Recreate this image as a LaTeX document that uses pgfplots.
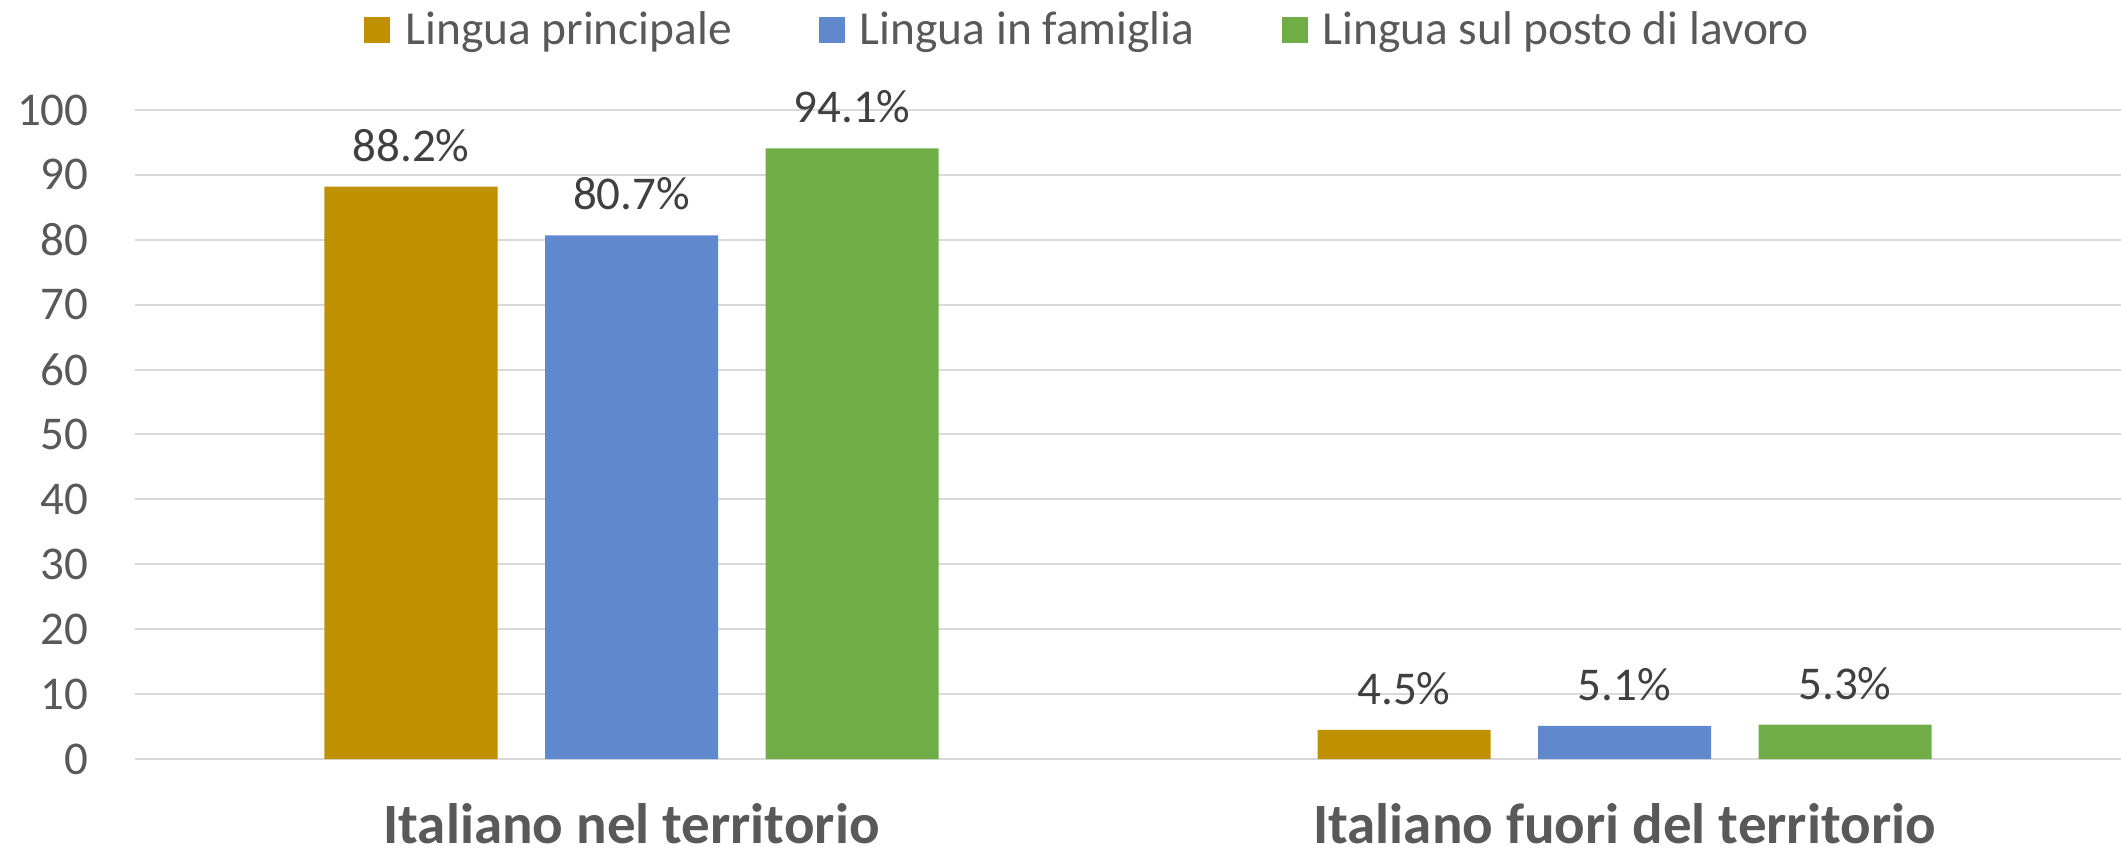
\documentclass[border=0pt]{standalone}
\usepackage{fontspec}
\setmainfont{Carlito}
\usepackage{pgfplots}
\pgfplotsset{compat=1.18}

\definecolor{cGold}{HTML}{BF9000}
\definecolor{cBlue}{HTML}{6088CC}
\definecolor{cGreen}{HTML}{70AD47}
\definecolor{cGrid}{HTML}{D9D9D9}
\definecolor{cText}{HTML}{595959}
\definecolor{cLabel}{HTML}{404040}

\begin{document}
\begin{tikzpicture}
% 1px of the reference = 0.5pt; axis origin sits at pixel (135,759)
\path[use as bounding box] (-67.5pt,-49pt) rectangle (993pt,379.5pt);
\begin{axis}[
    at={(0,0)}, anchor=south west,
    scale only axis,
    width=993pt, height=324.5pt,
    ybar=23.75pt,
    bar width=86.5pt,
    xmin=-0.5, xmax=1.5,
    ymin=0, ymax=100,
    xtick={0,1},
    xticklabels={Italiano nel territorio, Italiano fuori del territorio},
    ytick={0,10,...,100},
    major tick length=0pt,
    axis line style={draw=none},
    ymajorgrids,
    grid style={cGrid, line width=1pt},
    /pgf/number format/assume math mode=true,
    yticklabel style={font=\fontsize{23.5}{28}\selectfont, text=cText,
        anchor=east, inner sep=0pt, xshift=-23pt},
    xticklabel style={font=\fontsize{28.5}{34}\selectfont\bfseries, text=cText,
        anchor=base, inner sep=0pt, yshift=-42pt},
    nodes near coords={\pgfmathprintnumber[fixed, precision=1, fixed zerofill]{\pgfplotspointmeta}\%},
    every node near coord/.append style={font=\fontsize{23.5}{28}\selectfont,
        text=cLabel, inner sep=0pt, text depth=0pt, yshift=12.5pt},
    legend columns=3,
    legend image code/.code={\fill[#1] (0pt,-6.5pt) rectangle (13pt,6.5pt);},
    legend style={draw=none, fill=none, inner sep=0pt,
        at={(0.1153,1.1233)}, anchor=west,
        font=\fontsize{23.7}{28}\selectfont, text=cText,
        nodes={inner sep=0pt},
        /tikz/every odd column/.append style={column sep=7.5pt},
        /tikz/every even column/.append style={column sep=43.5pt}},
]
\addplot[fill=cGold, draw=none] coordinates {(0,88.2) (1,4.5)};
\addplot[fill=cBlue, draw=none] coordinates {(0,80.7) (1,5.1)};
\addplot[fill=cGreen, draw=none] coordinates {(0,94.1) (1,5.3)};
\legend{Lingua principale, Lingua in famiglia, Lingua sul posto di lavoro}
\end{axis}
\end{tikzpicture}
\end{document}
